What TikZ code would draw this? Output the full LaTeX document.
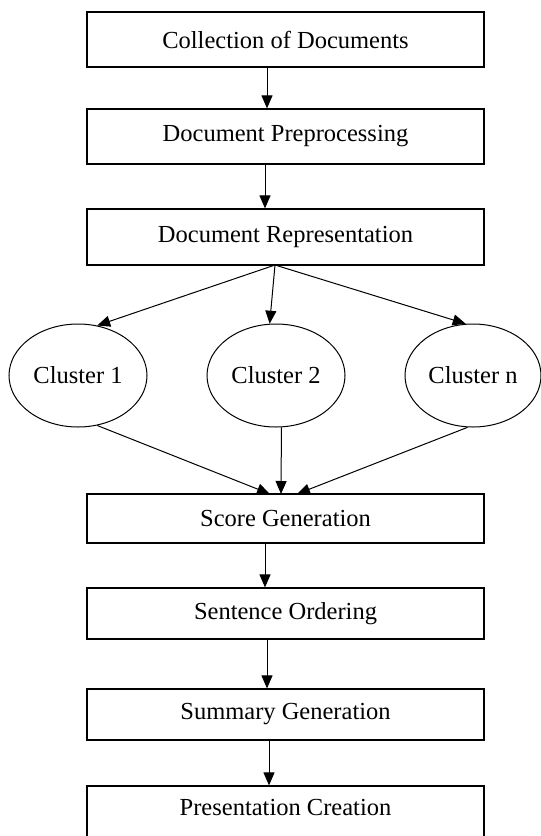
\documentclass[tikz,border=0pt]{standalone}
\usepackage{fontspec}
\setmainfont{Liberation Serif}
\usetikzlibrary{arrows.meta,shapes.geometric}
\begin{document}
\begin{tikzpicture}[x=1pt,y=-1pt,
  every node/.style={font=\fontsize{24.5}{28}\selectfont},
  stepbox/.style={draw, line width=1.2pt, rectangle, minimum width=397pt, inner sep=0pt},
  clus/.style={draw, line width=1pt, ellipse, inner sep=0pt, minimum height=103pt},
  arr/.style={line width=1pt, -{Triangle[length=13pt,width=11pt]}}]
\useasboundingbox (0,0) rectangle (541,836);
\node[stepbox, minimum height=55pt] (b1) at (285.5,39.5) {Collection of Documents};
\node[stepbox, minimum height=55pt] (b2) at (285.5,136.5) {Document Preprocessing};
\node[stepbox, minimum height=56pt] (b3) at (285.5,237) {Document Representation};
\node[clus, minimum width=138pt] (c1) at (78,375.5) {Cluster 1};
\node[clus, minimum width=138pt] (c2) at (276,375.5) {Cluster 2};
\node[clus, minimum width=136pt] (c3) at (473,375.5) {Cluster n};
\node[stepbox, minimum height=49pt] (b4) at (285.5,518.5) {Score Generation};
\node[stepbox, minimum height=51pt] (b5) at (285.5,613.5) {Sentence Ordering};
\node[stepbox, minimum height=51pt] (b6) at (285.5,714.5) {Summary Generation};
\node[stepbox, minimum height=56pt, text depth=14pt] (b7) at (285.5,814) {Presentation Creation};
\coordinate (fork) at (275,265);
\coordinate (s1) at (270,494);
\coordinate (s2) at (281,494);
\coordinate (s3) at (297,494);
\draw[arr] ([xshift=-18.5pt]b1.south) -- ([xshift=-18.5pt]b2.north);
\draw[arr] ([xshift=-20.5pt]b2.south) -- ([xshift=-20.5pt]b3.north);
\draw[arr] (fork) -- (c1.69);
\draw[arr] (fork) -- (c2.97);
\draw[arr] (fork) -- (c3.98);
\draw[arr] (c1.-69) -- (s1);
\draw[arr] (c2.-84) -- (s2);
\draw[arr] (c3.-96) -- (s3);
\draw[arr] ([xshift=-20.5pt]b4.south) -- ([xshift=-20.5pt]b5.north);
\draw[arr] ([xshift=-18.5pt]b5.south) -- ([xshift=-18.5pt]b6.north);
\draw[arr] ([xshift=-16.5pt]b6.south) -- ([xshift=-16.5pt]b7.north);
\end{tikzpicture}
\end{document}
